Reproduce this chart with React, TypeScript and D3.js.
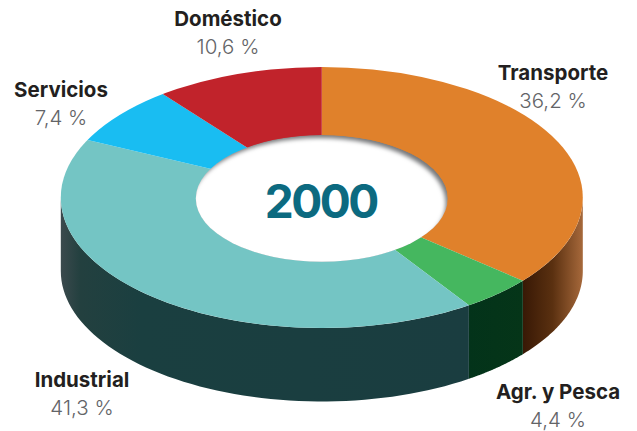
import React from "react";
import * as d3 from "d3";

const categories = ["Transporte", "Agr. y Pesca", "Industrial", "Servicios", "Doméstico"];
const shares = [36.2, 4.4, 41.3, 7.4, 10.6];
const shareLabels = ["36,2 %", "4,4 %", "41,3 %", "7,4 %", "10,6 %"];
const topColors = ["#e0812b", "#45b75f", "#74c5c4", "#19bdf2", "#c1232b"];
const title = "2000";

const width = 637;
const height = 431;
const cx = 321.8;
const cy = 197.5;
const rx = 261;
const ry = 130.5;
const depth = 73.5;
const holeCy = 198.4;
const holeRx = 126;
const holeRy = 63.4;
// the slices meet a little above the middle of the ellipse
const apexDy = -2.5;
const font = "Inter, 'Noto Sans', sans-serif";

// label anchors, one per category
const labelX = [553, 558, 82, 61, 228];
const labelY = [80, 399, 387, 97, 26];

const pieGen = d3.pie<number>().sort(null).value((d) => d);
const arcs = pieGen(shares);
const arcGen = d3.arc<d3.PieArcDatum<number>>().innerRadius(0).outerRadius(1.2);

// where a slice edge leaving the apex actually reaches the rim
function rimAngle(a: number) {
  const ux = Math.sin(a);
  const uy = -Math.cos(a);
  const py = apexDy / ry;
  const dot = py * uy;
  const t = -dot + Math.sqrt(dot * dot - py * py + 1);
  const ang = Math.atan2(ux * t, -(py + uy * t));
  return ang < 0 ? ang + 2 * Math.PI : ang;
}

const wallArea = d3
  .area<number>()
  .x((a) => cx + rx * Math.sin(a))
  .y0((a) => cy - ry * Math.cos(a))
  .y1((a) => cy - ry * Math.cos(a) + depth);

// only the near half of the rim shows its wall
function wallPath(start: number, end: number) {
  const a0 = Math.max(rimAngle(start), Math.PI / 2);
  const a1 = Math.min(rimAngle(end), (3 * Math.PI) / 2);
  if (a1 <= a0) return null;
  const steps = d3.range(0, 61).map((i) => a0 + ((a1 - a0) * i) / 60);
  return wallArea(steps);
}

export default function App() {
  return (
    <svg width={width} height={height} style={{ position: "absolute", left: 0, top: 0, background: "#fff" }}>
      <defs>
        <linearGradient id="wall0" gradientUnits="userSpaceOnUse" x1={522} x2={583} y1={0} y2={0}>
          <stop offset="0" stopColor="#371805" />
          <stop offset="0.5" stopColor="#5a3010" />
          <stop offset="1" stopColor="#a7693b" />
        </linearGradient>
        <linearGradient id="wall1" gradientUnits="userSpaceOnUse" x1={468} x2={523} y1={0} y2={0}>
          <stop offset="0" stopColor="#03331a" />
          <stop offset="1" stopColor="#053518" />
        </linearGradient>
        <linearGradient id="wall2" gradientUnits="userSpaceOnUse" x1={60} x2={468} y1={0} y2={0}>
          <stop offset="0" stopColor="#3c4a4e" />
          <stop offset="0.05" stopColor="#23403f" />
          <stop offset="0.2" stopColor="#1a3f40" />
          <stop offset="1" stopColor="#1a3d40" />
        </linearGradient>
        <filter id="holeBlur" x="-10%" y="-20%" width="120%" height="140%">
          <feGaussianBlur stdDeviation="2" />
        </filter>
        <clipPath id="holeClip">
          <ellipse cx={cx} cy={holeCy} rx={holeRx} ry={holeRy} />
        </clipPath>
        <clipPath id="rimClip">
          <ellipse cx={cx} cy={cy} rx={rx} ry={ry} />
        </clipPath>
      </defs>

      {arcs.map((d, i) => {
        const p = wallPath(d.startAngle, d.endAngle);
        return p ? <path key={i} d={p} fill={`url(#wall${i})`} /> : null;
      })}

      <g clipPath="url(#rimClip)">
        <g transform={`translate(${cx},${cy + apexDy}) scale(${rx},${ry})`}>
          {arcs.map((d, i) => (
            <path key={i} d={arcGen(d) ?? ""} fill={topColors[i]} />
          ))}
        </g>
      </g>

      <g clipPath="url(#holeClip)">
        <ellipse cx={cx} cy={holeCy} rx={holeRx} ry={holeRy} fill="#77787a" />
        <ellipse cx={cx - 3} cy={holeCy + 5} rx={holeRx + 1} ry={holeRy + 2} fill="#fff" filter="url(#holeBlur)" />
      </g>

      <text x={cx - 1} y={218} textAnchor="middle" fontFamily={font} fontWeight={700} fontSize={46} letterSpacing={-2.5} fill="#0c6a80">
        {title}
      </text>

      {categories.map((c, i) => (
        <g key={c} textAnchor="middle" fontFamily={font}>
          <text x={labelX[i]} y={labelY[i]} fontWeight={700} fontSize={20.5} fill="#231f20">
            {c}
          </text>
          <text x={labelX[i]} y={labelY[i] + 28} fontWeight={300} fontSize={20.5} fill="#636467">
            {shareLabels[i]}
          </text>
        </g>
      ))}
    </svg>
  );
}
